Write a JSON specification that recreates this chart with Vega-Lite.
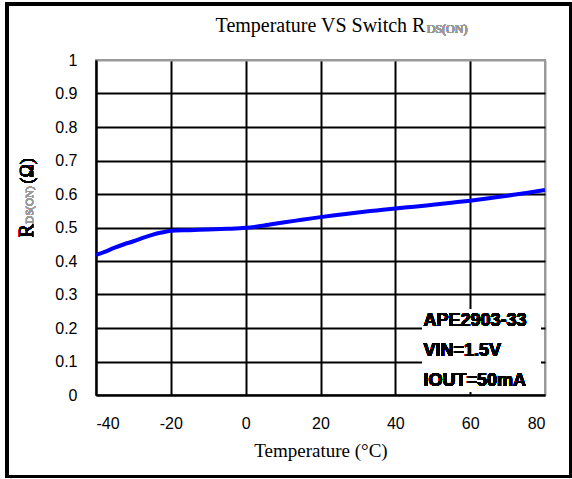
{
  "$schema": "https://vega.github.io/schema/vega-lite/v6.json",
  "autosize": "none",
  "padding": {"left": 96, "top": 60, "right": 27, "bottom": 84},
  "width": 449,
  "height": 335,
  "background": "white",
  "title": {"text": "Temperature VS Switch R", "font": "Liberation Serif", "fontSize": 20, "fontWeight": "normal", "color": "black", "baseline": "alphabetic", "offset": -49},
  "config": {
    "view": {"stroke": "#9a9a9a", "strokeWidth": 2},
    "axis": {"labelFont": "Liberation Sans", "labelFontSize": 16, "labelColor": "black", "ticks": false, "domainColor": "black", "domainWidth": 2, "gridWidth": 2, "gridOpacity": 1}
  },
  "datasets": {
    "curve": [
      {"t": -40, "r": 0.418}, {"t": -37.5, "r": 0.428}, {"t": -35, "r": 0.44}, {"t": -32.5, "r": 0.45},
      {"t": -30, "r": 0.459}, {"t": -27.5, "r": 0.469}, {"t": -25, "r": 0.478}, {"t": -22.5, "r": 0.485},
      {"t": -20, "r": 0.49}, {"t": -15, "r": 0.492}, {"t": -10, "r": 0.494}, {"t": -5, "r": 0.496},
      {"t": 0, "r": 0.499}, {"t": 5, "r": 0.506}, {"t": 10, "r": 0.515}, {"t": 15, "r": 0.523},
      {"t": 20, "r": 0.531}, {"t": 25, "r": 0.538}, {"t": 30, "r": 0.545}, {"t": 35, "r": 0.551},
      {"t": 40, "r": 0.557}, {"t": 45, "r": 0.562}, {"t": 50, "r": 0.568}, {"t": 55, "r": 0.574},
      {"t": 60, "r": 0.58}, {"t": 65, "r": 0.587}, {"t": 70, "r": 0.595}, {"t": 75, "r": 0.603},
      {"t": 80, "r": 0.612}
    ]
  },
  "data": {"name": "curve"},
  "encoding": {
    "x": {"field": "t", "type": "quantitative",
      "scale": {"domain": [-40, 80], "nice": false, "zero": false},
      "axis": {"values": [-40, -20, 0, 20, 40, 60, 80], "grid": true, "labelExpr": "'' + datum.value",
        "gridColor": {"condition": {"test": "datum.value == 80", "value": "#9a9a9a"}, "value": "black"},
        "labelPadding": 20, "title": "Temperature (°C)", "titleFont": "Liberation Serif", "titleFontSize": 19, "titleFontWeight": "normal", "titleColor": "black", "titlePadding": 10}},
    "y": {"field": "r", "type": "quantitative",
      "scale": {"domain": [0, 1], "nice": false, "zero": false},
      "axis": {"values": [0, 0.1, 0.2, 0.3, 0.4, 0.5, 0.6, 0.7, 0.8, 0.9, 1], "format": ".1~f", "grid": true,
        "gridColor": {"condition": {"test": "datum.value == 1", "value": "#9a9a9a"}, "value": "black"},
        "labelPadding": 19, "title": null}}
  },
  "layer": [
    {"mark": {"type": "rect", "fill": null, "stroke": "black", "strokeWidth": 2.5},
     "encoding": {"x": {"datum": -63.8}, "x2": {"datum": 86.8}, "y": {"datum": 1.167}, "y2": {"datum": -0.244}}},
    {"mark": {"type": "rect", "fill": "white", "stroke": null},
     "encoding": {"x": {"datum": 47.2}, "x2": {"datum": 78.8}, "y": {"datum": 0.257}, "y2": {"datum": 0.01}}},
    {"mark": {"type": "line", "color": "#0000ff", "strokeWidth": 4, "interpolate": "monotone"}},
    {"mark": {"type": "text", "text": ["APE2903-33", "VIN=1.5V", "IOUT=50mA"], "font": "Liberation Sans", "fontWeight": "bold", "fontSize": 18, "lineHeight": 30, "align": "left", "baseline": "middle", "color": "black"},
     "encoding": {"x": {"datum": 47.5}, "y": {"datum": 0.22}}},
    {"mark": {"type": "text", "text": "DS(ON)", "font": "Liberation Serif", "fontSize": 12, "align": "left", "baseline": "alphabetic", "color": "#999999"},
     "encoding": {"x": {"datum": 48.4}, "y": {"datum": 1.081}}},
    {"mark": {"type": "text", "text": "R", "font": "Liberation Serif", "fontSize": 20, "angle": 270, "align": "center", "baseline": "alphabetic", "color": "black"},
     "encoding": {"x": {"datum": -56.8}, "y": {"datum": 0.49}}},
    {"mark": {"type": "text", "text": "DS(ON)", "font": "Liberation Serif", "fontSize": 11, "angle": 270, "align": "center", "baseline": "alphabetic", "color": "#999999"},
     "encoding": {"x": {"datum": -56.8}, "y": {"datum": 0.567}}},
    {"mark": {"type": "text", "text": "(Ω)", "font": "Liberation Serif", "fontSize": 18, "angle": 270, "align": "center", "baseline": "alphabetic", "color": "black"},
     "encoding": {"x": {"datum": -56.8}, "y": {"datum": 0.669}}}
  ]
}
